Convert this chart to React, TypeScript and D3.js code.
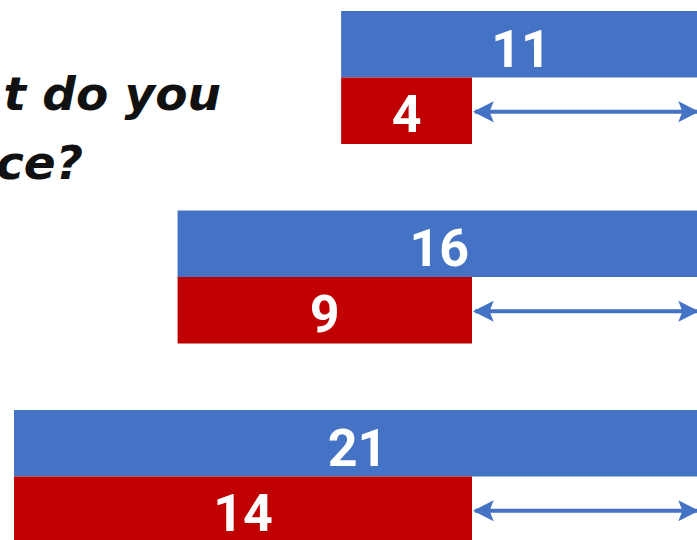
import * as d3 from "d3"

// one row per question: the larger (blue) and smaller (red) count
const rows = ["q1", "q2", "q3"]
const blueValues = [11, 16, 21]
const redValues = [4, 9, 14]
const titleLines = ["t do you", "ce?"]

const width = 697
const height = 540
const BLUE = "#4472C4"
const RED = "#C00000"

export default function App() {
  // bars grow to the left from a fixed right edge
  const x = d3.scaleLinear().domain([0, 21]).range([701, 14])
  const unit = x(0) - x(1)

  const y = d3.scaleBand<string>().domain(rows).range([11, 543]).paddingInner(1 / 3).paddingOuter(0)
  const half = y.bandwidth() / 2

  const numFont = "Roboto, 'Noto Sans', sans-serif"

  return (
    <svg
      width={width}
      height={height}
      style={{ position: "absolute", left: 0, top: 0, background: "white" }}
    >
      <defs>
        <marker id="ah" viewBox="0 0 10 10" refX="9" refY="5" markerWidth="5.2" markerHeight="5.6" orient="auto-start-reverse" markerUnits="strokeWidth">
          <path d="M0,0 L10,5 L0,10 L2,5 z" fill={BLUE} />
        </marker>
      </defs>

      <g fontFamily="'DejaVu Sans', sans-serif" fontWeight={700} fontStyle="italic" fontSize={47} fill="#111">
        <text x={221} y={110} textAnchor="end">{titleLines[0]}</text>
        <text x={83} y={179} textAnchor="end">{titleLines[1]}</text>
      </g>

      {rows.map((r, i) => {
        const top = y(r) as number
        const left = x(blueValues[i])
        const redRight = left + redValues[i] * unit
        return (
          <g key={r}>
            <rect x={left} y={top} width={x(0) - left} height={half} fill={BLUE} />
            <rect x={left} y={top + half} width={redRight - left} height={half} fill={RED} />
            <text
              x={(left + x(0)) / 2}
              y={top + half - 11}
              textAnchor="middle"
              fill="white"
              fontFamily={numFont}
              fontWeight={700}
              fontSize={52}
            >
              {blueValues[i]}
            </text>
            <text
              x={(left + redRight) / 2}
              y={top + 2 * half - 12}
              textAnchor="middle"
              fill="white"
              fontFamily={numFont}
              fontWeight={700}
              fontSize={52}
            >
              {redValues[i]}
            </text>
            <line
              x1={redRight + 3}
              x2={x(0) - 4}
              y1={top + half * 1.5 + 1}
              y2={top + half * 1.5 + 1}
              stroke={BLUE}
              strokeWidth={4}
              markerStart="url(#ah)"
              markerEnd="url(#ah)"
            />
          </g>
        )
      })}
    </svg>
  )
}
